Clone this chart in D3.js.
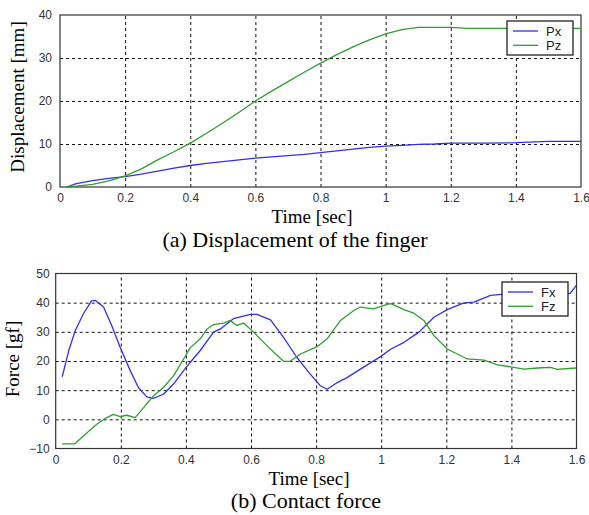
<!DOCTYPE html>
<html>
<head>
<meta charset="utf-8">
<script src="https://cdn.jsdelivr.net/npm/d3@7"></script>
<style>
  body { margin: 0; background: #fff; }
  svg { display: block; }
</style>
</head>
<body>
<div id="chart"></div>
<script>
// (a) displacement of the finger
var timeP = [0.02, 0.05, 0.1, 0.15, 0.2, 0.25, 0.3, 0.35, 0.4, 0.45, 0.5, 0.55, 0.6, 0.65, 0.7, 0.75,
             0.8, 0.85, 0.9, 0.95, 1.0, 1.05, 1.1, 1.15, 1.2, 1.25, 1.3, 1.4, 1.5, 1.6];
var px = [0, 0.8, 1.5, 2.0, 2.4, 3.0, 3.7, 4.4, 5.0, 5.5, 5.9, 6.3, 6.7, 7.0, 7.3, 7.6,
          8.0, 8.4, 8.8, 9.2, 9.5, 9.7, 9.9, 10.0, 10.2, 10.2, 10.2, 10.3, 10.6, 10.6];
var pz = [0, 0.2, 0.6, 1.4, 2.6, 4.2, 6.3, 8.2, 10.2, 12.5, 14.9, 17.4, 20, 22.3, 24.5, 26.7,
          28.8, 30.8, 32.6, 34.2, 35.6, 36.6, 37.1, 37.1, 37.1, 36.9, 36.9, 36.9, 36.9, 36.9];

// (b) contact force
var timeFx = [0.02, 0.04, 0.06, 0.085, 0.11, 0.121, 0.147, 0.172, 0.198, 0.229, 0.254, 0.28, 0.3, 0.331,
              0.362, 0.393, 0.413, 0.444, 0.485, 0.506, 0.546, 0.598, 0.618, 0.66, 0.7, 0.741, 0.782,
              0.813, 0.834, 0.865, 0.895, 0.936, 0.998, 1.03, 1.07, 1.116, 1.162, 1.203, 1.254, 1.285,
              1.336, 1.377, 1.45, 1.52, 1.56, 1.58, 1.6];
var fx = [14.6, 23.5, 30.4, 36.2, 40.6, 40.8, 38.5, 32.2, 24.7, 16.7, 10.9, 7.7, 7.2, 8.6,
          12.1, 16.7, 19.5, 23.6, 29.9, 31.0, 34.5, 36.0, 36.0, 34.1, 28.1, 21.2, 15.5,
          11.5, 10.3, 12.6, 14.3, 17.2, 21.5, 24.1, 26.4, 29.9, 35.0, 37.6, 39.9, 40.2,
          42.5, 42.9, 43.3, 43.6, 43.4, 43.1, 46.0];
var timeFz = [0.02, 0.059, 0.085, 0.126, 0.157, 0.177, 0.198, 0.218, 0.244, 0.27, 0.3, 0.331, 0.362,
              0.393, 0.413, 0.444, 0.465, 0.485, 0.516, 0.536, 0.557, 0.577, 0.608, 0.639, 0.67, 0.7,
              0.72, 0.752, 0.803, 0.834, 0.875, 0.916, 0.936, 0.977, 1.018, 1.03, 1.07, 1.1, 1.131,
              1.162, 1.203, 1.264, 1.316, 1.357, 1.398, 1.439, 1.48, 1.521, 1.54, 1.598];
var fz = [-8.4, -8.4, -5.7, -1.7, 0.6, 1.7, 0.9, 1.4, 0.6, 4.0, 8.0, 10.9, 14.9,
          20.7, 24.5, 27.6, 31.0, 32.5, 33.0, 33.9, 32.2, 33.0, 29.9, 26.4, 23.0, 19.9,
          19.9, 22.4, 24.9, 27.6, 33.9, 37.3, 38.5, 37.9, 39.4, 39.7, 37.6, 36.4, 33.9,
          28.7, 24.1, 20.7, 20.3, 18.7, 18.0, 17.2, 17.6, 17.8, 17.1, 17.6];

var timeTicks = [0, 0.2, 0.4, 0.6, 0.8, 1, 1.2, 1.4, 1.6];
var dispTicks = [0, 10, 20, 30, 40];
var forceTicks = [-10, 0, 10, 20, 30, 40, 50];

var blue = "#3030f0",
    green = "#2f9d2f";

var width = 589,
    height = 515;

var svg = d3.select("#chart")
    .append("svg")
    .attr("width", width)
    .attr("height", height);

function zip(t, v) {
    return t.map(function(d, i) { return [d, v[i]]; });
}

function panel(cfg) {
    var x = d3.scaleLinear().domain([0, 1.6]).range([cfg.left, cfg.right]);
    var y = d3.scaleLinear().domain(cfg.yDomain).range([cfg.bottom, cfg.top]);
    var g = svg.append("g");

    // grid
    g.append("g")
        .attr("class", "grid")
        .attr("transform", "translate(0," + cfg.bottom + ")")
        .call(d3.axisBottom(x).tickValues(timeTicks.slice(1, -1)).tickSize(-(cfg.bottom - cfg.top)).tickFormat(""))
        .call(function(s) { s.select(".domain").remove(); });
    g.append("g")
        .attr("class", "grid")
        .attr("transform", "translate(" + cfg.left + ",0)")
        .call(d3.axisLeft(y).tickValues(cfg.yTicks.slice(1, -1)).tickSize(-(cfg.right - cfg.left)).tickFormat(""))
        .call(function(s) { s.select(".domain").remove(); });
    g.selectAll(".grid line")
        .attr("stroke", "#111")
        .attr("stroke-width", 1)
        .attr("stroke-dasharray", "3,3");

    // tick labels
    g.append("g")
        .attr("transform", "translate(0," + cfg.bottom + ")")
        .call(d3.axisBottom(x).tickValues(timeTicks).tickSize(0).tickPadding(cfg.xPad).tickFormat(d3.format("~g")))
        .call(function(s) { s.select(".domain").remove(); });
    g.append("g")
        .attr("transform", "translate(" + cfg.left + ",0)")
        .call(d3.axisLeft(y).tickValues(cfg.yTicks).tickSize(0).tickPadding(cfg.yPad).tickFormat(d3.format("~g")))
        .call(function(s) { s.select(".domain").remove(); });
    g.selectAll(".tick text")
        .attr("font-family", "Liberation Sans, Arial, sans-serif")
        .attr("font-size", 12)
        .attr("fill", "#333");

    // frame
    g.append("rect")
        .attr("x", cfg.left)
        .attr("y", cfg.top)
        .attr("width", cfg.right - cfg.left)
        .attr("height", cfg.bottom - cfg.top)
        .attr("fill", "none")
        .attr("stroke", "#333")
        .attr("stroke-width", 1.2);

    var line = d3.line()
        .x(function(d) { return x(d[0]); })
        .y(function(d) { return y(d[1]); });

    cfg.series.forEach(function(s) {
        g.append("path")
            .datum(zip(s.t, s.v))
            .attr("fill", "none")
            .attr("stroke", s.color)
            .attr("stroke-width", 1.3)
            .attr("stroke-linejoin", "round")
            .attr("d", line);
    });

    // legend
    var lg = g.append("g").attr("transform", "translate(" + cfg.legend[0] + "," + cfg.legend[1] + ")");
    lg.append("rect")
        .attr("width", 66)
        .attr("height", 34)
        .attr("fill", "#fff")
        .attr("stroke", "#222")
        .attr("stroke-width", 1.3);
    cfg.series.forEach(function(s, i) {
        lg.append("line")
            .attr("x1", 6).attr("x2", 31)
            .attr("y1", 10 + i * 14.3).attr("y2", 10 + i * 14.3)
            .attr("stroke", s.color)
            .attr("stroke-width", 1.3);
        lg.append("text")
            .attr("x", 39)
            .attr("y", 14.5 + i * 14.3)
            .attr("font-family", "Liberation Sans, Arial, sans-serif")
            .attr("font-size", 13)
            .attr("fill", "#222")
            .text(s.name);
    });

    // labels
    svg.append("text")
        .attr("x", cfg.xLabel[0])
        .attr("y", cfg.xLabel[1])
        .attr("text-anchor", "middle")
        .attr("font-family", "Liberation Serif, Times New Roman, serif")
        .attr("font-size", 18)
        .attr("textLength", 81)
        .attr("lengthAdjust", "spacingAndGlyphs")
        .text("Time [sec]");
    svg.append("text")
        .attr("transform", "translate(" + cfg.yLabel[0] + "," + cfg.yLabel[1] + ") rotate(-90)")
        .attr("text-anchor", "middle")
        .attr("font-family", "Liberation Serif, Times New Roman, serif")
        .attr("font-size", 19)
        .text(cfg.yTitle);
    svg.append("text")
        .attr("x", cfg.caption[0])
        .attr("y", cfg.caption[1])
        .attr("text-anchor", "middle")
        .attr("font-family", "Liberation Serif, Times New Roman, serif")
        .attr("font-size", 22)
        .text(cfg.captionText);
}

panel({
    left: 60, right: 581, top: 15, bottom: 187,
    yDomain: [0, 40], yTicks: dispTicks,
    xPad: 6, yPad: 8,
    series: [
        {name: "Px", t: timeP, v: px, color: blue},
        {name: "Pz", t: timeP, v: pz, color: green}
    ],
    legend: [507, 21],
    xLabel: [312, 223], yLabel: [24, 97], yTitle: "Displacement [mm]",
    caption: [295, 247], captionText: "(a) Displacement of the finger"
});

panel({
    left: 55.7, right: 576.5, top: 273.5, bottom: 448.5,
    yDomain: [-10, 50], yTicks: forceTicks,
    xPad: 7, yPad: 6,
    series: [
        {name: "Fx", t: timeFx, v: fx, color: blue},
        {name: "Fz", t: timeFz, v: fz, color: green}
    ],
    legend: [502, 282],
    xLabel: [309, 485], yLabel: [19, 359], yTitle: "Force [gf]",
    caption: [306, 508], captionText: "(b) Contact force"
});
</script>
</body>
</html>
